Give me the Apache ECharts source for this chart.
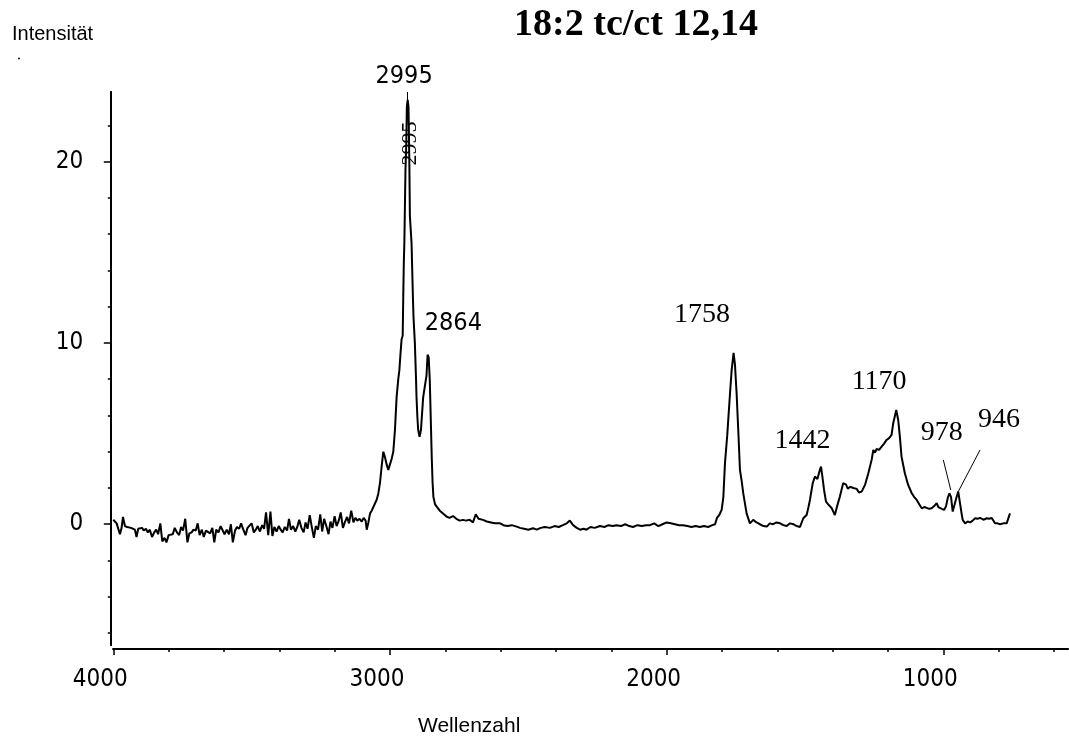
<!DOCTYPE html>
<html>
<head>
<meta charset="utf-8">
<script src="https://cdn.jsdelivr.net/npm/echarts@6/dist/echarts.min.js"></script>
<style>
  html, body { margin: 0; padding: 0; background: #fff; }
  #chart { width: 1069px; height: 740px; }
</style>
</head>
<body>
<div id="chart"></div>
<script>
// Raman spectrum of 18:2 tc/ct 12,14 — wavenumber (cm-1) vs. intensity
const wavenumbers = [
  4000, 3995, 3988, 3982, 3976, 3970, 3965, 3958, 3950, 3943, 3936, 3930, 3922, 3916, 3910, 3903,
  3896, 3890, 3882, 3875, 3868, 3860, 3852, 3845, 3838, 3830, 3823, 3815, 3808, 3800, 3793, 3785,
  3778, 3770, 3762, 3755, 3748, 3740, 3732, 3725, 3717, 3710, 3702, 3695, 3688, 3680, 3673, 3665,
  3658, 3650, 3642, 3635, 3628, 3620, 3612, 3605, 3598, 3590, 3582, 3575, 3568, 3560, 3553, 3545,
  3538, 3530, 3522, 3515, 3508, 3500, 3492, 3485, 3478, 3470, 3462, 3455, 3448, 3440, 3432, 3425,
  3418, 3410, 3402, 3395, 3388, 3380, 3372, 3365, 3358, 3350, 3342, 3335, 3328, 3320, 3312, 3305,
  3298, 3290, 3282, 3275, 3268, 3260, 3252, 3245, 3238, 3230, 3222, 3215, 3208, 3200, 3193, 3185,
  3178, 3170, 3162, 3155, 3148, 3140, 3132, 3125, 3118, 3110, 3102, 3095, 3088, 3084, 3078, 3072,
  3066, 3060, 3054, 3048, 3042, 3036, 3030, 3024, 3018, 3012, 3006, 3000, 2994, 2988, 2982, 2976,
  2970, 2966, 2962, 2958, 2954, 2952, 2950, 2948, 2946, 2944, 2941, 2939, 2936, 2933, 2930, 2928,
  2922, 2917, 2915, 2910, 2906, 2904, 2901, 2898, 2893, 2888, 2884, 2880, 2874, 2868, 2864, 2860,
  2856, 2852, 2849, 2846, 2843, 2837, 2831, 2820, 2813, 2805, 2795, 2785, 2772, 2760, 2748, 2736,
  2725, 2712, 2700, 2690, 2680, 2664, 2650, 2635, 2620, 2602, 2590, 2575, 2560, 2542, 2530, 2515,
  2500, 2483, 2470, 2455, 2440, 2422, 2405, 2390, 2375, 2361, 2350, 2338, 2325, 2313, 2300, 2290,
  2275, 2260, 2241, 2225, 2210, 2195, 2181, 2165, 2150, 2135, 2122, 2105, 2090, 2075, 2060, 2045,
  2030, 2015, 2000, 1985, 1970, 1955, 1941, 1925, 1910, 1895, 1880, 1865, 1850, 1835, 1825, 1818,
  1810, 1801, 1795, 1789, 1781, 1771, 1765, 1758, 1753, 1747, 1740, 1735, 1729, 1723, 1711, 1699,
  1687, 1675, 1663, 1650, 1638, 1627, 1615, 1603, 1590, 1578, 1566, 1554, 1542, 1530, 1518, 1506,
  1494, 1488, 1482, 1472, 1464, 1455, 1448, 1442, 1437, 1431, 1424, 1416, 1403, 1392, 1385, 1374,
  1362, 1352, 1345, 1337, 1325, 1313, 1305, 1295, 1283, 1271, 1259, 1253, 1247, 1241, 1232, 1223,
  1214, 1205, 1196, 1187, 1181, 1170, 1163, 1157, 1151, 1139, 1127, 1114, 1105, 1096, 1087, 1078,
  1069, 1060, 1051, 1042, 1033, 1024, 1018, 1012, 1005, 997, 990, 984, 978, 972, 966, 958,
  952, 946, 940, 934, 930, 921, 912, 903, 894, 885, 876, 867, 855, 843, 834, 825,
  813, 804, 795, 783, 771, 765, 759
];
const intensities = [
  0.25, 0.35, 0.05, 0.1, -0.55, -0.2, 0.4, -0.1, -0.15, -0.05, -0.2, -0.1, -0.3, -0.7, -0.25, -0.3,
  -0.2, -0.35, -0.25, -0.45, -0.3, -0.7, -0.45, -0.3, -0.55, 0.05, -0.95, -0.75, -1.0, -0.6, -0.5, -0.55,
  -0.2, -0.45, -0.6, -0.15, -0.35, 0.3, -1.0, -0.5, -0.45, -0.3, -0.35, 0.05, -0.6, -0.3, -0.7, -0.35,
  -0.25, -0.5, -0.2, -1.0, -0.3, -0.45, -0.1, -0.2, -0.55, -0.3, -0.55, 0.0, -1.0, -0.35, -0.15, -0.25,
  0.05, -0.3, -0.6, -0.2, -0.15, 0.05, -0.45, -0.3, -0.1, -0.4, -0.05, -0.25, 0.65, -0.6, 0.7, -0.65,
  -0.15, -0.4, -0.1, -0.3, -0.45, -0.15, -0.35, 0.3, -0.3, -0.1, -0.4, -0.15, 0.25, -0.2, -0.45, 0.1,
  -0.25, 0.5, -0.2, -0.75, -0.1, -0.3, 0.55, -0.4, 0.3, -0.1, -0.55, 0.15, -0.2, 0.45, -0.1, 0.2,
  0.65, -0.2, 0.15, 0.4, 0.05, 0.75, 0.1, 0.35, 0.2, 0.3, 0.15, 0.35, 0.2, -0.3, 0.1, 0.6,
  0.75, 0.95, 0.95, 1.35, 1.7, 2.3, 3.2, 4.0, 3.7, 3.3, 3.0, 3.3, 3.6, 4.0, 5.2, 7.0,
  8.0, 8.5, 9.4, 10.2, 10.4, 12.5, 14.4, 15.5, 17.5, 19.5, 21.0, 23.0, 23.4, 23.0, 20.0, 17.0,
  15.5, 12.5, 11.45, 10.0, 8.1, 7.0, 5.93, 5.2, 4.83, 5.2, 6.1, 7.0, 7.6, 8.2, 9.35, 9.2,
  7.9, 5.5, 3.7, 2.3, 1.5, 1.1, 0.97, 0.75, 0.7, 0.55, 0.42, 0.35, 0.45, 0.3, 0.2, 0.24,
  0.2, 0.25, 0.1, 0.55, 0.3, 0.24, 0.15, 0.1, 0.05, 0.05, -0.05, -0.1, -0.05, -0.13, -0.2, -0.25,
  -0.3, -0.22, -0.3, -0.2, -0.15, -0.2, -0.1, -0.15, -0.05, 0.05, 0.2, -0.05, -0.2, -0.3, -0.25, -0.3,
  -0.15, -0.2, -0.1, -0.15, -0.05, -0.1, -0.05, -0.1, 0.0, -0.1, -0.15, -0.05, -0.1, -0.05, -0.05, 0.05,
  -0.1, 0.0, 0.1, 0.05, 0.0, -0.05, -0.05, -0.1, -0.15, -0.1, -0.15, -0.1, -0.15, -0.05, 0.0, 0.35,
  0.5, 0.8, 1.5, 3.4, 4.9, 7.2, 8.5, 9.45, 8.8, 7.2, 4.8, 3.0, 2.4, 1.7, 0.6, 0.05,
  0.24, 0.1, 0.0, -0.1, -0.13, 0.05, 0.0, 0.1, 0.05, -0.05, -0.1, 0.05, 0.0, -0.1, -0.15, 0.33,
  0.51, 0.9, 1.34, 2.26, 2.63, 2.5, 2.9, 3.18, 2.63, 1.89, 1.25, 1.1, 0.88, 0.51, 0.93, 1.52,
  2.26, 2.2, 1.95, 2.07, 2.0, 1.95, 1.75, 1.8, 2.17, 2.81, 3.55, 4.1, 3.95, 4.15, 4.1, 4.28,
  4.45, 4.65, 4.75, 4.93, 5.57, 6.3, 5.75, 4.83, 3.73, 2.81, 2.17, 1.71, 1.5, 1.34, 1.1, 0.88,
  0.95, 0.9, 0.85, 0.88, 1.0, 1.16, 0.95, 1.05, 0.85, 0.79, 1.0, 1.45, 1.71, 1.5, 0.7, 1.16,
  1.5, 1.8, 1.2, 0.6, 0.24, 0.05, 0.15, 0.1, 0.2, 0.33, 0.3, 0.35, 0.25, 0.33, 0.3, 0.35,
  0.05, 0.05, 0.0, 0.05, 0.05, 0.1, 0.6
];

// Axis ticks
const xMajorTicks = [1000, 2000, 3000, 4000];
const xMinorTicks = [600, 800, 1200, 1400, 1600, 1800, 2200, 2400, 2600, 2800, 3200, 3400, 3600, 3800];
const yMajorTicks = [0, 10, 20];
const yMinorTicks = [-6, -4, -2, 2, 4, 6, 8, 12, 14, 16, 18, 22];

// Peak annotations: text and the point (wavenumber, intensity) the text is centred on
const peakTexts = ['2995', '2864', '1758', '1442', '1170', '978', '946'];
const peakTextAnchors = [[2949, 23.5], [2771, 11.05], [1872, 11.54], [1509, 4.6], [1232, 7.85], [1006, 5.06], [799, 5.75]];
const peakTextShift = [[0, -22], [0, 0], [0, 0], [0, 0], [0, 0], [0, 0], [0, 0]];
// Leader lines from labels down to the peaks
const leaderLines = [
  [[2936, 23.84], [2936, 23.3]],
  [[1000, 3.55], [973, 1.89]],
  [[867, 4.1], [946, 1.8]]
];

const NARROW = "'DejaVu Sans Condensed', 'Liberation Sans Narrow', sans-serif";
const SERIF = "'Liberation Serif', 'Times New Roman', serif";
const SANS = "'Liberation Sans', Arial, sans-serif";

const X_MIN = 550, X_MAX = 4000;
const Y_MIN = -6.66, Y_MAX = 23.84;

const chart = echarts.init(document.getElementById('chart'), null, { renderer: 'canvas' });

const baseX = {
  type: 'value', position: 'bottom', inverse: true, min: X_MIN, max: X_MAX, offset: 4,
  splitLine: { show: false },
  axisLine: { show: true, onZero: false, lineStyle: { color: '#000', width: 2 } }
};
const baseY = {
  type: 'value', position: 'left', min: Y_MIN, max: Y_MAX, offset: 2.5,
  splitLine: { show: false },
  axisLine: { show: true, onZero: false, lineStyle: { color: '#000', width: 2 } }
};

const peakData = peakTexts.map((t, i) => ({
  coord: peakTextAnchors[i],
  value: t,
  label: Object.assign(
    { offset: peakTextShift[i] },
    i < 2 ? { fontFamily: NARROW, fontSize: 25 } : { fontFamily: SERIF, fontSize: 28 }
  )
}));
// rotated duplicate of the main peak's label sitting on the band
peakData.push({
  coord: [2928, 21.0], value: '2995',
  label: { fontFamily: SERIF, fontSize: 22, rotate: 90 }
});

chart.setOption({
  animation: false,
  backgroundColor: '#fff',
  grid: { left: 113.3, top: 92, width: 954.5, height: 553, containLabel: false },
  xAxis: [
    Object.assign({}, baseX, {
      axisTick: { show: true, length: 6, customValues: xMajorTicks, lineStyle: { color: '#000', width: 1.5 } },
      axisLabel: {
        show: true, customValues: xMajorTicks, margin: 19, padding: [0, 26, 0, 0],
        color: '#000', fontFamily: NARROW, fontSize: 24, formatter: v => String(v)
      }
    }),
    Object.assign({}, baseX, {
      axisTick: { show: true, length: 3, customValues: xMinorTicks, lineStyle: { color: '#000', width: 1.5 } },
      axisLabel: { show: false }
    })
  ],
  yAxis: [
    Object.assign({}, baseY, {
      axisTick: { show: true, length: 7, customValues: yMajorTicks, lineStyle: { color: '#000', width: 1.5 } },
      axisLabel: {
        show: true, customValues: yMajorTicks, margin: 27.5, padding: [0, 0, 11, 0],
        color: '#000', fontFamily: NARROW, fontSize: 24, formatter: v => String(v)
      }
    }),
    Object.assign({}, baseY, {
      axisTick: { show: true, length: 3, customValues: yMinorTicks, lineStyle: { color: '#000', width: 1.5 } },
      axisLabel: { show: false }
    })
  ],
  series: [{
    type: 'line',
    xAxisIndex: 0, yAxisIndex: 0,
    data: wavenumbers.map((w, i) => [w, intensities[i]]),
    showSymbol: false,
    clip: false,
    lineStyle: { color: '#000', width: 2 },
    silent: true,
    markPoint: {
      symbol: 'circle', symbolSize: 0, silent: true,
      itemStyle: { color: 'transparent' },
      label: { show: true, position: 'inside', color: '#000', formatter: p => p.value },
      data: peakData
    },
    markLine: {
      symbol: ['none', 'none'], silent: true,
      label: { show: false },
      lineStyle: { color: '#000', width: 1, type: 'solid' },
      emphasis: { disabled: true },
      data: leaderLines.map(([a, b]) => [{ coord: a }, { coord: b }])
    }
  }],
  graphic: [
    {
      type: 'text', x: 636, y: 25,
      style: { text: '18:2 tc/ct 12,14', fill: '#000', font: 'bold 38px ' + SERIF, textAlign: 'center', textVerticalAlign: 'middle' }
    },
    {
      type: 'text', x: 12, y: 34,
      style: { text: 'Intensität', fill: '#000', font: '20px ' + SANS, textAlign: 'left', textVerticalAlign: 'middle' }
    },
    {
      type: 'text', x: 418, y: 726,
      style: { text: 'Wellenzahl', fill: '#000', font: '21px ' + SANS, textAlign: 'left', textVerticalAlign: 'middle' }
    },
    {
      type: 'circle', shape: { cx: 19, cy: 58.5, r: 0.9 }, style: { fill: '#000' }
    }
  ]
});
</script>
</body>
</html>
